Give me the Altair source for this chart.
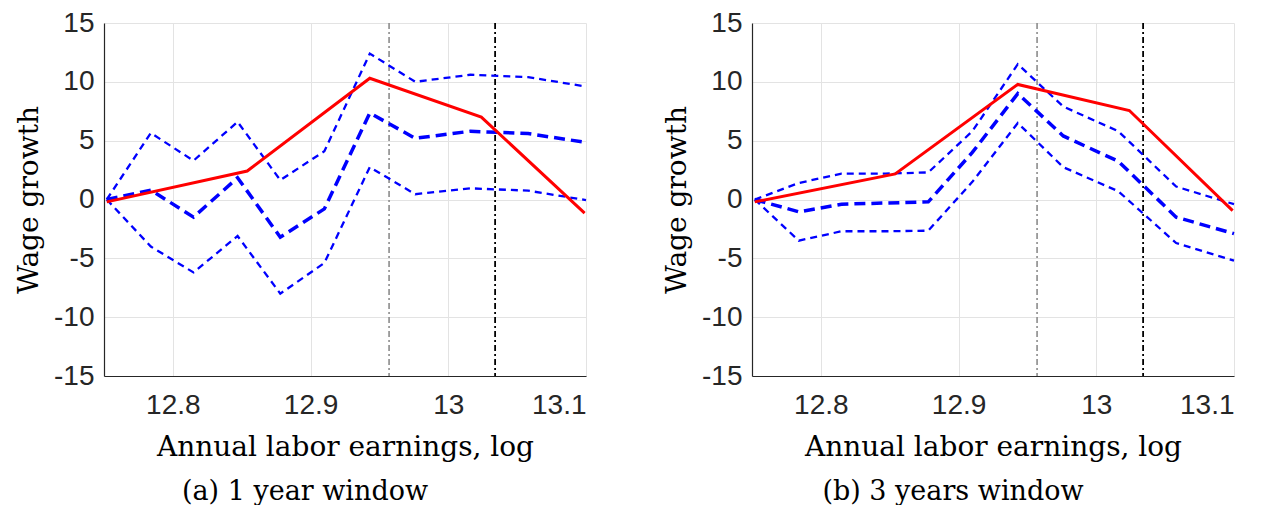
import altair as alt
import pandas as pd

# ---- data ----
blue_x = [12.752, 12.784, 12.815, 12.847, 12.878, 12.910, 12.943, 12.976, 13.016, 13.058, 13.100]
red_x = [12.752, 12.854, 12.943, 13.024, 13.099]

a_red = [-0.2, 2.42, 10.3, 7.0, -1.15]
a_upper = [0.0, 5.65, 3.3, 6.6, 1.65, 4.1, 12.4, 10.0, 10.6, 10.4, 9.6]
a_mid = [0.0, 0.8, -1.5, 1.85, -3.2, -0.8, 7.35, 5.2, 5.8, 5.6, 4.85]
a_lower = [0.0, -4.0, -6.2, -3.1, -8.0, -5.4, 2.75, 0.45, 0.95, 0.75, -0.05]

b_red = [-0.2, 2.18, 9.78, 7.56, -0.94]
b_upper = [0.0, 1.4, 2.2, 2.2, 2.3, 5.8, 11.5, 7.9, 5.8, 1.1, -0.4]
b_mid = [0.0, -1.05, -0.4, -0.3, -0.2, 4.0, 9.0, 5.4, 3.25, -1.5, -2.9]
b_lower = [0.0, -3.5, -2.7, -2.7, -2.65, 1.5, 6.5, 2.75, 0.7, -3.7, -5.2]

vline_gray = [12.957]
vline_black = [13.034]

x_ticks = [12.8, 12.9, 13.0, 13.1]
y_ticks = [-15, -10, -5, 0, 5, 10, 15]

SERIF = "DejaVu Serif"
SANS = "Liberation Sans"


def panel(red_y, up, mid, lo, caption):
    xs = alt.Scale(domain=[12.75, 13.1], nice=False, zero=False)
    ys = alt.Scale(domain=[-15, 15], nice=False, zero=False)
    xax = alt.Axis(values=x_ticks, labelExpr="'' + datum.value", title="Annual labor earnings, log",
                   labelPadding=15, titlePadding=14)
    yax = alt.Axis(values=y_ticks, labelExpr="'' + datum.value", title="Wage growth",
                   labelPadding=10, titlePadding=10)

    blue_df = pd.DataFrame({"x": blue_x, "up": up, "mid": mid, "lo": lo})
    red_df = pd.DataFrame({"x": red_x, "y": red_y})

    X = alt.X("x:Q", scale=xs, axis=xax)

    gray = alt.Chart(pd.DataFrame({"x": vline_gray})).mark_rule(
        color="#8c8c8c", strokeWidth=1.6, strokeDash=[6, 3, 2, 3]
    ).encode(x=X)
    black = alt.Chart(pd.DataFrame({"x": vline_black})).mark_rule(
        color="#000000", strokeWidth=1.8, strokeDash=[6, 3, 2, 3]
    ).encode(x=X)

    base = alt.Chart(blue_df)
    upper = base.mark_line(color="#0000ff", strokeWidth=2.3, strokeDash=[7, 5]).encode(
        x=X, y=alt.Y("up:Q", scale=ys, axis=yax))
    lower = base.mark_line(color="#0000ff", strokeWidth=2.3, strokeDash=[7, 5]).encode(
        x=X, y=alt.Y("lo:Q", scale=ys, axis=yax))
    middle = base.mark_line(color="#0000ff", strokeWidth=3.5, strokeDash=[11, 6]).encode(
        x=X, y=alt.Y("mid:Q", scale=ys, axis=yax))
    red = alt.Chart(red_df).mark_line(color="#ff0000", strokeWidth=3).encode(
        x=X, y=alt.Y("y:Q", scale=ys, axis=yax))

    return alt.layer(gray, black, upper, lower, middle, red).properties(
        width=482, height=353,
        title=alt.TitleParams(text=caption, orient="bottom", anchor="middle", frame="group",
                              dx=-40, offset=18, font=SERIF, fontSize=27, fontWeight="normal",
                              color="#000000"),
    )


left = panel(a_red, a_upper, a_mid, a_lower, "(a) 1 year window")
right = panel(b_red, b_upper, b_mid, b_lower, "(b) 3 years window")

chart = alt.hconcat(left, right, spacing=70).properties(
    padding={"left": 7, "top": 1, "right": 0, "bottom": 0}
).configure_view(stroke=None).configure_axis(
    labelFont=SANS, labelFontSize=28, labelColor="#262626",
    domainColor="#262626", domainWidth=1.2,
    gridColor="#e3e3e3", gridWidth=1, ticks=False,
    titleFont=SERIF, titleFontSize=28, titleFontWeight="normal", titleColor="#000000",
)

chart.save("out.html", embed_options={"renderer": "svg", "actions": False})
